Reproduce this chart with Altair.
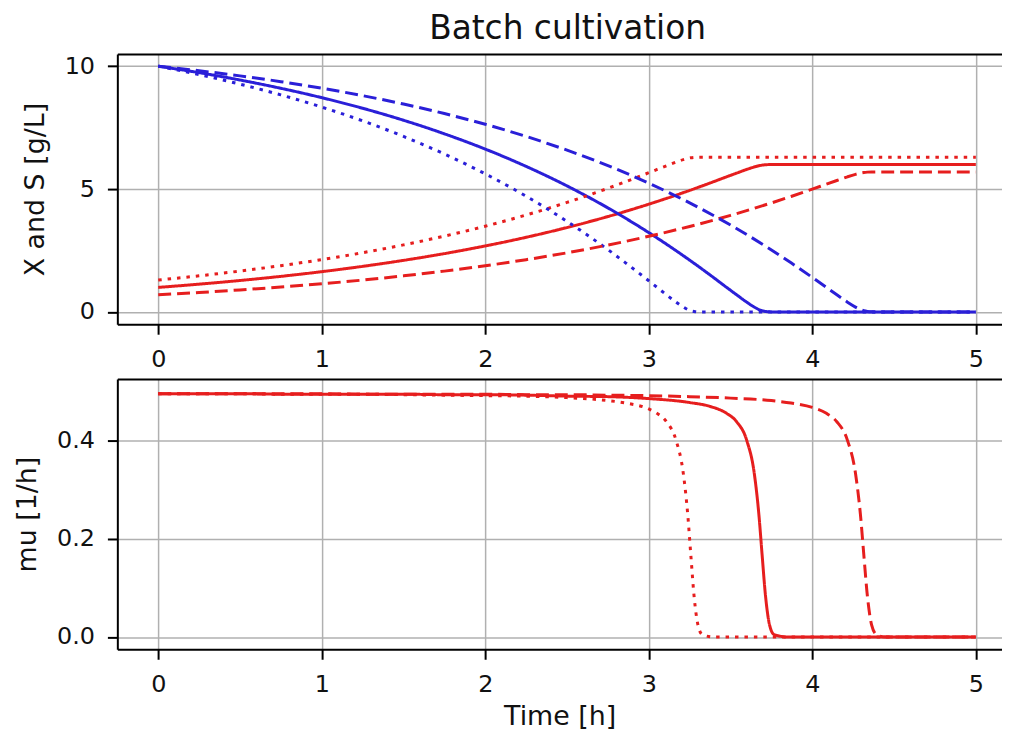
import altair as alt
import pandas as pd

RED = "#e61e1e"
BLUE = "#2a1fd8"

# Scenario "solid"
t_solid = [0, 0.25, 0.5, 0.75, 1.0, 1.25, 1.5, 1.75, 2.0, 2.25, 2.5, 2.75, 3.0, 3.25, 3.376, 3.476,
           3.537, 3.599, 3.645, 3.673, 3.693, 3.714, 3.739, 3.767, 3.85, 4.0, 4.5, 5.0]
X_solid = [1.000, 1.132, 1.281, 1.449, 1.640, 1.856, 2.100, 2.375, 2.687, 3.039, 3.436, 3.883, 4.386, 4.946, 5.250, 5.500,
           5.650, 5.800, 5.900, 5.950, 5.975, 5.990, 5.998, 6.000, 6.000, 6.000, 6.000, 6.000]
S_solid = [10.000, 9.737, 9.438, 9.101, 8.720, 8.289, 7.801, 7.249, 6.627, 5.923, 5.129, 4.234, 3.229, 2.108, 1.500, 1.000,
           0.700, 0.400, 0.200, 0.100, 0.050, 0.020, 0.005, 0.001, 0.0, 0.0, 0.0, 0.0]
mu_solid = [0.495, 0.495, 0.495, 0.494, 0.494, 0.494, 0.494, 0.493, 0.493, 0.492, 0.490, 0.489, 0.485, 0.477, 0.469, 0.455,
            0.438, 0.400, 0.333, 0.250, 0.167, 0.083, 0.024, 0.005, 0.0, 0.0, 0.0, 0.0]

# Scenario "dotted"
t_dot = [0, 0.25, 0.5, 0.75, 1.0, 1.25, 1.5, 1.75, 2.0, 2.25, 2.5, 2.75, 2.858, 3.0, 3.051, 3.108,
         3.167, 3.211, 3.238, 3.257, 3.277, 3.301, 3.327, 3.4, 4.0, 4.5, 5.0]
X_dot = [1.300, 1.471, 1.665, 1.884, 2.132, 2.412, 2.729, 3.087, 3.490, 3.946, 4.458, 5.031, 5.300, 5.666, 5.800, 5.950,
         6.100, 6.200, 6.250, 6.275, 6.290, 6.298, 6.300, 6.300, 6.300, 6.300, 6.300]
S_dot = [10.000, 9.658, 9.270, 8.832, 8.336, 7.776, 7.143, 6.427, 5.620, 4.709, 3.685, 2.537, 2.000, 1.269, 1.000, 0.700,
         0.400, 0.200, 0.100, 0.050, 0.020, 0.005, 0.001, 0.0, 0.0, 0.0, 0.0]
mu_dot = [0.495, 0.495, 0.495, 0.494, 0.494, 0.494, 0.493, 0.492, 0.491, 0.490, 0.487, 0.481, 0.476, 0.464, 0.455, 0.438,
          0.400, 0.333, 0.250, 0.167, 0.083, 0.024, 0.005, 0.0, 0.0, 0.0, 0.0]

# Scenario "dashed"
t_dash = [0, 0.25, 0.5, 0.75, 1.0, 1.25, 1.5, 1.75, 2.0, 2.25, 2.5, 2.75, 3.0, 3.25, 3.5, 3.75, 3.870, 4.0,
          4.086, 4.150, 4.215, 4.264, 4.294, 4.315, 4.337, 4.363, 4.392, 4.45, 4.5, 5.0]
X_dash = [0.700, 0.792, 0.897, 1.015, 1.148, 1.299, 1.470, 1.663, 1.882, 2.129, 2.408, 2.724, 3.080, 3.480, 3.932, 4.438, 4.700, 4.997,
          5.200, 5.350, 5.500, 5.600, 5.650, 5.675, 5.690, 5.698, 5.700, 5.700, 5.700, 5.700]
S_dash = [10.000, 9.816, 9.607, 9.371, 9.104, 8.801, 8.460, 8.073, 7.636, 7.142, 6.584, 5.953, 5.241, 4.439, 3.537, 2.525, 2.000, 1.406,
          1.000, 0.700, 0.400, 0.200, 0.100, 0.050, 0.020, 0.005, 0.001, 0.0, 0.0, 0.0]
mu_dash = [0.495, 0.495, 0.495, 0.495, 0.495, 0.494, 0.494, 0.494, 0.494, 0.493, 0.493, 0.492, 0.491, 0.489, 0.486, 0.481, 0.476, 0.467,
           0.455, 0.438, 0.400, 0.333, 0.250, 0.167, 0.083, 0.024, 0.005, 0.0, 0.0, 0.0]

x_ticks = [0, 1, 2, 3, 4, 5]
y_ticks_top = [0, 5, 10]
y_ticks_bottom = [0.0, 0.2, 0.4]

series = [("solid", t_solid, X_solid, S_solid, mu_solid),
          ("dotted", t_dot, X_dot, S_dot, mu_dot),
          ("dashed", t_dash, X_dash, S_dash, mu_dash)]

rows_xs, rows_mu = [], []
for name, t, X, S, mu in series:
    for i in range(len(t)):
        rows_xs.append({"t": t[i], "scen": name, "var": "X", "val": X[i]})
        rows_xs.append({"t": t[i], "scen": name, "var": "S", "val": S[i]})
        rows_mu.append({"t": t[i], "scen": name, "mu": mu[i]})
df_xs = pd.DataFrame(rows_xs)
df_mu = pd.DataFrame(rows_mu)

xscale = alt.Scale(domain=[-0.25, 5.16], nice=False, zero=False)
dash = alt.StrokeDash("scen:N", scale=alt.Scale(domain=["solid", "dashed", "dotted"],
                                                 range=[[1, 0], [13, 6], [3.5, 6]]), legend=None)
W, H = 890, 272


def top_frame(df):
    return alt.Chart(df).mark_point(opacity=0).encode(
        x=alt.X("t:Q", scale=xscale,
                axis=alt.Axis(orient="top", labels=False, ticks=False, grid=False,
                              domain=True, title=None, domainColor="black", domainWidth=2))
    )


top_lines = alt.Chart(df_xs).mark_line(strokeWidth=3, interpolate="monotone").encode(
    x=alt.X("t:Q", scale=xscale, axis=alt.Axis(values=x_ticks, title=None, format="d")),
    y=alt.Y("val:Q", scale=alt.Scale(domain=[-0.5, 10.5], nice=False, zero=False),
            axis=alt.Axis(values=y_ticks_top, title="X and S [g/L]", format="d")),
    color=alt.Color("var:N", scale=alt.Scale(domain=["X", "S"], range=[RED, BLUE]), legend=None),
    strokeDash=dash,
)
top = alt.layer(top_lines, top_frame(df_xs)).resolve_axis(x="independent").properties(
    width=W, height=H,
    title=alt.TitleParams("Batch cultivation", frame="group", anchor="middle", dx=8, offset=8),
)

bottom_lines = alt.Chart(df_mu).mark_line(strokeWidth=3, color=RED, interpolate="monotone").encode(
    x=alt.X("t:Q", scale=xscale, axis=alt.Axis(values=x_ticks, title="Time [h]", format="d")),
    y=alt.Y("mu:Q", scale=alt.Scale(domain=[-0.025, 0.525], nice=False, zero=False),
            axis=alt.Axis(values=y_ticks_bottom, title="mu [1/h]", format=".1f")),
    strokeDash=dash,
)
bottom = alt.layer(bottom_lines, top_frame(df_mu)).resolve_axis(x="independent").properties(
    width=W, height=H)

chart = alt.vconcat(top, bottom, spacing=8).properties(
    padding={"left": 5, "top": 3, "right": 0, "bottom": 0}
).configure_view(stroke=None).configure_axis(
    labelFont="DejaVu Sans", titleFont="DejaVu Sans", labelFontSize=24, titleFontSize=27,
    titleFontWeight="normal", labelColor="#111111", titleColor="#111111",
    domainColor="black", domainWidth=2, tickColor="black", tickWidth=2, tickSize=10,
    gridColor="#b0b0b0", gridWidth=1.5, labelFlush=False, labelOverlap=False,
).configure_axisX(labelPadding=13, titlePadding=8).configure_axisY(
    labelPadding=13, titlePadding=15
).configure_title(font="DejaVu Sans", fontSize=33, fontWeight="normal", color="#111111")

chart.save("out.html", embed_options={"renderer": "svg", "actions": False})
